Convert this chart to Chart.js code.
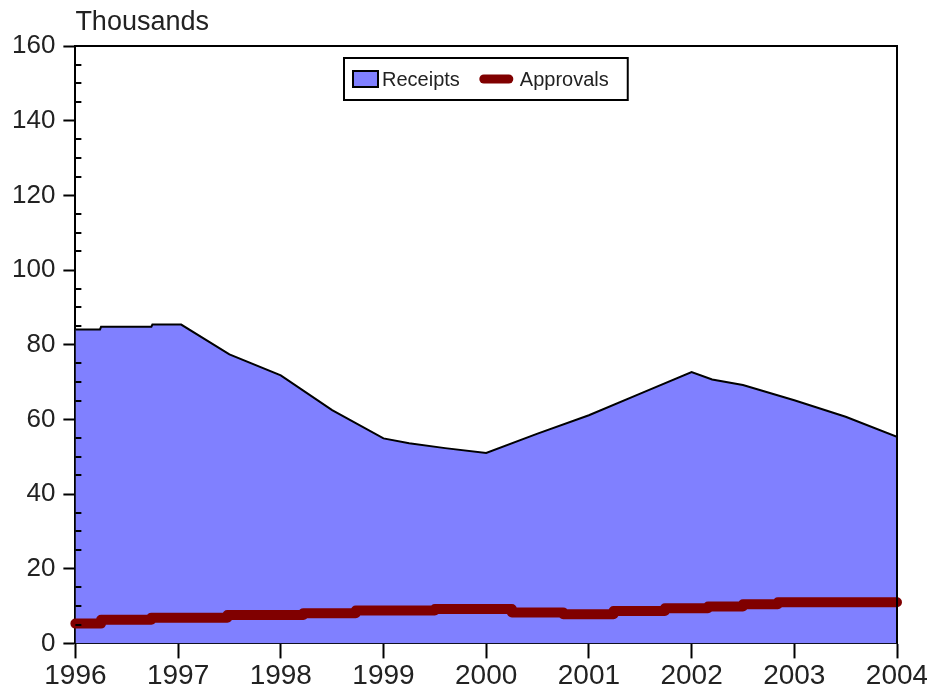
<!DOCTYPE html>
<html>
<head>
<meta charset="utf-8">
<script src="https://cdn.jsdelivr.net/npm/chart.js@4/dist/chart.umd.min.js"></script>
<style>
  html, body { margin: 0; padding: 0; background: #fff; }
  #wrap { width: 927px; height: 694px; position: relative; }
</style>
</head>
<body>
<div id="wrap"><canvas id="myChart"></canvas></div>
<script>
// Receipts (thousands)
const receiptYears = [1996, 1996.24, 1996.25, 1996.74, 1996.75, 1997.03, 1997.5, 1998, 1998.5, 1999,
    1999.25, 1999.6, 2000, 2000.5, 2001, 2001.5, 2002, 2002.2, 2002.5, 2003, 2003.5, 2004];
const receiptValues = [84.1, 84.1, 84.8, 84.8, 85.4, 85.4, 77.4, 71.8, 62.5, 54.9,
    53.6, 52.3, 51.0, 56.2, 61.1, 66.9, 72.7, 70.7, 69.2, 65.1, 60.7, 55.3];

// Approvals (thousands), stepped line
const approvalYears = [1996, 1996.25, 1996.74, 1997.48, 1998.22, 1998.73, 1999.5, 2000.25, 2000.75,
    2001.24, 2001.74, 2002.16, 2002.5, 2002.84, 2004];
const approvalValues = [5.3, 6.35, 6.9, 7.6, 8.1, 8.8, 9.2, 8.3, 7.8,
    8.7, 9.4, 9.9, 10.5, 11.0, 11.0];

const seriesLabels = ['Receipts', 'Approvals'];
const unitLabel = 'Thousands';

const FONT = '"Liberation Sans", Arial, sans-serif';
const TEXT = '#222';

const toPoints = (xs, ys) => xs.map((x, i) => ({ x: x, y: ys[i] }));

// title, frame, inside minor ticks and the boxed legend
const decorations = {
    id: 'decorations',
    afterDraw(chart) {
        const ctx = chart.ctx;
        const area = chart.chartArea;
        const yScale = chart.scales.y;
        ctx.save();

        // top and right frame
        ctx.strokeStyle = '#000';
        ctx.lineWidth = 2;
        ctx.beginPath();
        ctx.moveTo(area.left, area.top);
        ctx.lineTo(area.right, area.top);
        ctx.lineTo(area.right, area.bottom);
        ctx.stroke();

        // minor ticks inside the left axis
        for (let v = 0; v <= 160; v += 5) {
            if (v % 20 === 0) continue;
            const y = Math.round(yScale.getPixelForValue(v));
            ctx.beginPath();
            ctx.moveTo(area.left, y);
            ctx.lineTo(area.left + 6, y);
            ctx.stroke();
        }

        // unit label
        ctx.fillStyle = TEXT;
        ctx.font = '27px ' + FONT;
        ctx.textAlign = 'left';
        ctx.textBaseline = 'middle';
        ctx.fillText(unitLabel, area.left, 23);

        // legend
        const rec = chart.data.datasets[0];
        const app = chart.data.datasets[1];
        ctx.font = '20px ' + FONT;
        const w1 = ctx.measureText(rec.label).width;
        const w2 = ctx.measureText(app.label).width;
        const boxW = 9 + 25 + 4 + w1 + 20 + 29 + 11 + w2 + 19;
        const boxH = 42;
        const bx = Math.round((area.left + area.right) / 2 - boxW / 2);
        const by = area.top + 12;
        ctx.fillStyle = '#fff';
        ctx.fillRect(bx, by, boxW, boxH);
        ctx.strokeStyle = '#000';
        ctx.lineWidth = 2;
        ctx.strokeRect(bx, by, boxW, boxH);

        const cy = by + boxH / 2;
        let x = bx + 9;
        ctx.fillStyle = rec.backgroundColor;
        ctx.fillRect(x, cy - 8, 25, 16);
        ctx.lineWidth = 2;
        ctx.strokeRect(x, cy - 8, 25, 16);
        x += 25 + 4;
        ctx.fillStyle = TEXT;
        ctx.fillText(rec.label, x, cy + 1);
        x += w1 + 20;

        ctx.strokeStyle = app.borderColor;
        ctx.lineWidth = 9;
        ctx.lineCap = 'round';
        ctx.beginPath();
        ctx.moveTo(x + 4, cy);
        ctx.lineTo(x + 29, cy);
        ctx.stroke();
        x += 29 + 11;
        ctx.fillStyle = TEXT;
        ctx.fillText(app.label, x, cy + 1);

        ctx.restore();
    }
};

const ctx = document.getElementById('myChart').getContext('2d');
new Chart(ctx, {
    type: 'line',
    data: {
        datasets: [
            {
                label: seriesLabels[0],
                data: toPoints(receiptYears, receiptValues),
                backgroundColor: '#8080ff',
                borderColor: '#000',
                borderWidth: 2,
                fill: 'origin',
                pointRadius: 0,
                tension: 0,
                order: 1,
            },
            {
                label: seriesLabels[1],
                data: toPoints(approvalYears, approvalValues),
                borderColor: '#800000',
                backgroundColor: '#800000',
                borderWidth: 10,
                borderCapStyle: 'round',
                borderJoinStyle: 'round',
                stepped: 'before',
                fill: false,
                pointRadius: 0,
                clip: false,
                order: 0,
            }
        ]
    },
    options: {
        responsive: true,
        maintainAspectRatio: false,
        animation: false,
        events: [],
        layout: {
            padding: { left: 4, right: 30, top: 46, bottom: 0 }
        },
        plugins: {
            legend: { display: false },
            tooltip: { enabled: false }
        },
        scales: {
            x: {
                type: 'linear',
                min: 1996,
                max: 2004,
                afterFit: function (scale) {
                    // let the last year label hang into the right margin
                    scale.paddingRight = 0;
                },
                ticks: {
                    stepSize: 1,
                    color: TEXT,
                    padding: 1,
                    font: { family: FONT, size: 28 },
                    callback: function (value) {
                        return String(value);
                    }
                },
                grid: {
                    drawOnChartArea: false,
                    tickLength: 15,
                    tickWidth: 2,
                    color: '#000'
                },
                border: { color: '#000', width: 2 }
            },
            y: {
                min: 0,
                max: 160,
                ticks: {
                    stepSize: 20,
                    color: TEXT,
                    padding: 8,
                    font: { family: FONT, size: 26 }
                },
                grid: {
                    drawOnChartArea: false,
                    tickLength: 12,
                    tickWidth: 2,
                    color: '#000'
                },
                border: { color: '#000', width: 2 }
            }
        }
    },
    plugins: [decorations]
});
</script>
</body>
</html>
